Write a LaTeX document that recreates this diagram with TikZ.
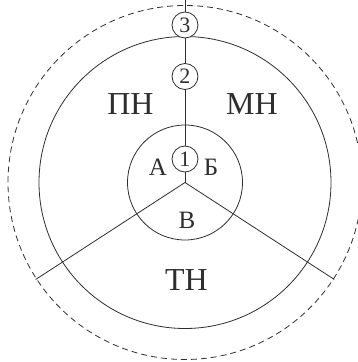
\documentclass[tikz,border=0pt]{standalone}
\usepackage{fontspec}
\setmainfont{Liberation Serif}
\usetikzlibrary{positioning}
\definecolor{ink}{HTML}{2E2E2E}
\newcommand{\bigsize}{\fontsize{32}{36}\selectfont}
\newcommand{\midsize}{\fontsize{25}{29}\selectfont}
\newcommand{\numsize}{\fontsize{22}{24}\selectfont}
\tikzset{
 every node/.append style={text=ink},
 ring/.style={draw=ink,line width=.8pt},
 outerring/.style={draw=ink,line width=.8pt,dash pattern=on 6pt off 4pt},
 spoke/.style={draw=ink,line width=.8pt},
 numbox/.style={circle,draw=ink,line width=.8pt,fill=white,minimum size=26pt,inner sep=0pt,font=\numsize},
 zone/.style={inner sep=0pt,font=\bigsize},
 part/.style={inner sep=0pt,font=\midsize},
}

\begin{document}
\begin{tikzpicture}[x=1pt,y=1pt]

\useasboundingbox (-185,-179.5) rectangle (173,182.5);
\coordinate (c) at (0,0);
\draw[outerring] (c) circle (177);
\draw[ring] (c) circle (146);
\draw[ring] (c) circle (57.5);
% three parts meet at the centre
\coordinate (top) at (0,182.5);
\coordinate (lend) at (213:178);
\coordinate (rend) at (-33:178);
\draw[spoke] (c) -- (lend);
\draw[spoke] (c) -- (rend);
\node[numbox] (n1) at (0,23.5) {1};
\node[numbox] (n2) at (0,106) {2};
\node[numbox] (n3) at (0,157.5) {3};
\draw[spoke] (c) -- (n1); \draw[spoke] (n1) -- (n2); \draw[spoke] (n2) -- (n3); \draw[spoke] (n3) -- (top);
\node[zone] (pn) at (-54.5,78.5) {ПН};
\node[zone] (mn) at (67,78.5) {МН};
\node[zone] (tn) at (1.5,-97.5) {ТН};
\node[part] (a) at (-27,15.5) {А};
\node[part] (b) at (26,15.5) {Б};
\node[part] (v) at (2,-37.5) {В};

\end{tikzpicture}
\end{document}
